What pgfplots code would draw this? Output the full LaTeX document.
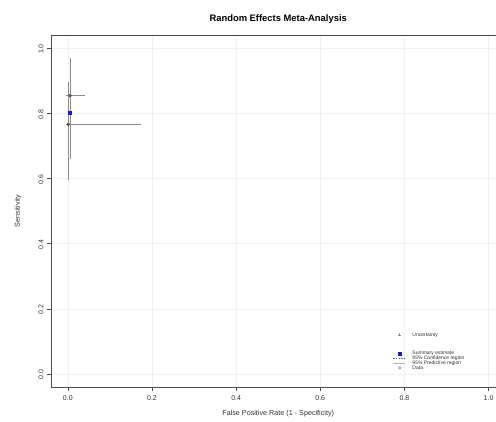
\documentclass[border=0pt]{standalone}
\usepackage{pgfplots}
\pgfplotsset{compat=1.18}
\usepackage{fontspec}
\setmainfont{Liberation Sans}

\definecolor{axcol}{gray}{0.3}
\definecolor{errcol}{gray}{0.55}
\definecolor{ptcol}{gray}{0.35}
\definecolor{sumcol}{rgb}{0.1,0.1,0.8}
\definecolor{confcol}{rgb}{0.35,0.35,0.75}
\definecolor{predcol}{gray}{0.7}

% study estimates with their confidence intervals
\pgfplotstableread{
x      y      exp    exm    eyp    eym
0.005  0.854  0.031  0.005  0.109  0.187
0.001  0.766  0.168  0.001  0.123  0.166
}\studies

\begin{document}
\begin{tikzpicture}
\begin{scope}
\clip (0,0) rectangle (496pt,421pt);
\begin{axis}[
  at={(51pt,34pt)}, anchor=south west,
  scale only axis, width=454.4pt, height=352pt,
  xmin=-0.04, xmax=1.04, ymin=-0.04, ymax=1.04,
  axis lines*=left,
  xtick={0,0.2,0.4,0.6,0.8,1}, ytick={0,0.2,0.4,0.6,0.8,1},
  xticklabels={0.0,0.2,0.4,0.6,0.8,1.0},
  yticklabels={0.0,0.2,0.4,0.6,0.8,1.0},
  tick align=outside,
  major tick length=4pt,
  axis line style={axcol, line width=0.6pt, -},
  tick style={axcol, line width=0.5pt},
  grid=major,
  major grid style={gray!11, line width=0.5pt},
  tick label style={font=\fontsize{7}{8}\selectfont, text=black!80},
  xticklabel style={yshift=-1.5pt},
  yticklabel style={rotate=90, anchor=south, xshift=-1pt},
  title={Random Effects Meta-Analysis},
  every axis title shift=0pt,
  title style={font=\bfseries\fontsize{9.4}{11}\selectfont,
    at={(axis description cs:0.5,1.045)}, anchor=center},
  xlabel={False Positive Rate (1 - Specificity)},
  ylabel={Sensitivity},
  label style={font=\fontsize{7.2}{8}\selectfont, text=black!80},
  xlabel style={at={(axis description cs:0.5,-0.0767)}, anchor=center},
  ylabel style={at={(axis description cs:-0.0726,0.5)}, anchor=center},
  legend style={
    at={(axis description cs:0.7526,0.1545)}, anchor=north west,
    draw=none, fill=none, inner sep=0pt, outer sep=0pt,
    column sep=7pt, row sep=0pt,
    font=\fontsize{5}{5}\selectfont, text=black!80,
    nodes={inner sep=0pt, text height=3.5pt, text depth=1.2pt},
  },
  legend cell align=left,
]
% top border of the plot box
\draw[axcol, line width=0.6pt] (rel axis cs:0,1) -- (rel axis cs:1,1);
% uncertainty of each study
\addplot[forget plot, draw=none, mark=none,
  error bars/.cd,
  x dir=both, x explicit, y dir=both, y explicit,
  error bar style={errcol, line width=0.6pt},
  error mark options={errcol, mark size=2pt, line width=0.6pt},
] table[x=x, y=y, x error plus=exp, x error minus=exm,
        y error plus=eyp, y error minus=eym] {\studies};
% study points
\addplot[forget plot, only marks, mark=o, mark size=1.3pt,
  ptcol, line width=1pt] table[x=x, y=y] {\studies};
% summary estimate
\addplot[forget plot, only marks, mark=square*, mark size=1.5pt, sumcol]
  coordinates {(0.004,0.801)};

% legend
\addlegendimage{legend image code/.code={
  \path (0pt,0pt) (12pt,0pt);
  \draw[errcol, line width=0.5pt] (6.5pt,-1.5pt) -- (6.5pt,1.5pt)
    (5pt,0pt) -- (8pt,0pt);}}
\addlegendentry{Uncertainty}
\addlegendimage{empty legend}\addlegendentry{}
\addlegendimage{empty legend}\addlegendentry{}
\addlegendimage{empty legend}\addlegendentry{}
\addlegendimage{legend image code/.code={
  \path (0pt,0pt) (12pt,0pt);
  \fill[sumcol] (5.2pt,-1.3pt) rectangle (7.8pt,1.3pt);}}
\addlegendentry{Summary estimate}
\addlegendimage{legend image code/.code={
  \draw[confcol, line width=0.5pt, dash pattern=on 1.5pt off 1.2pt]
    (0pt,0pt) -- (12pt,0pt);}}
\addlegendentry{95\% Confidence region}
\addlegendimage{legend image code/.code={
  \draw[predcol, line width=0.4pt] (0pt,0pt) -- (12pt,0pt);}}
\addlegendentry{95\% Predictive region}
\addlegendimage{legend image code/.code={
  \path (0pt,0pt) (12pt,0pt);
  \draw[errcol, line width=0.5pt] (6.5pt,0pt) circle (1.3pt);}}
\addlegendentry{Data}
\end{axis}
\end{scope}
\pgfresetboundingbox
\path[use as bounding box] (0,0) rectangle (496pt,421pt);
\end{tikzpicture}
\end{document}
